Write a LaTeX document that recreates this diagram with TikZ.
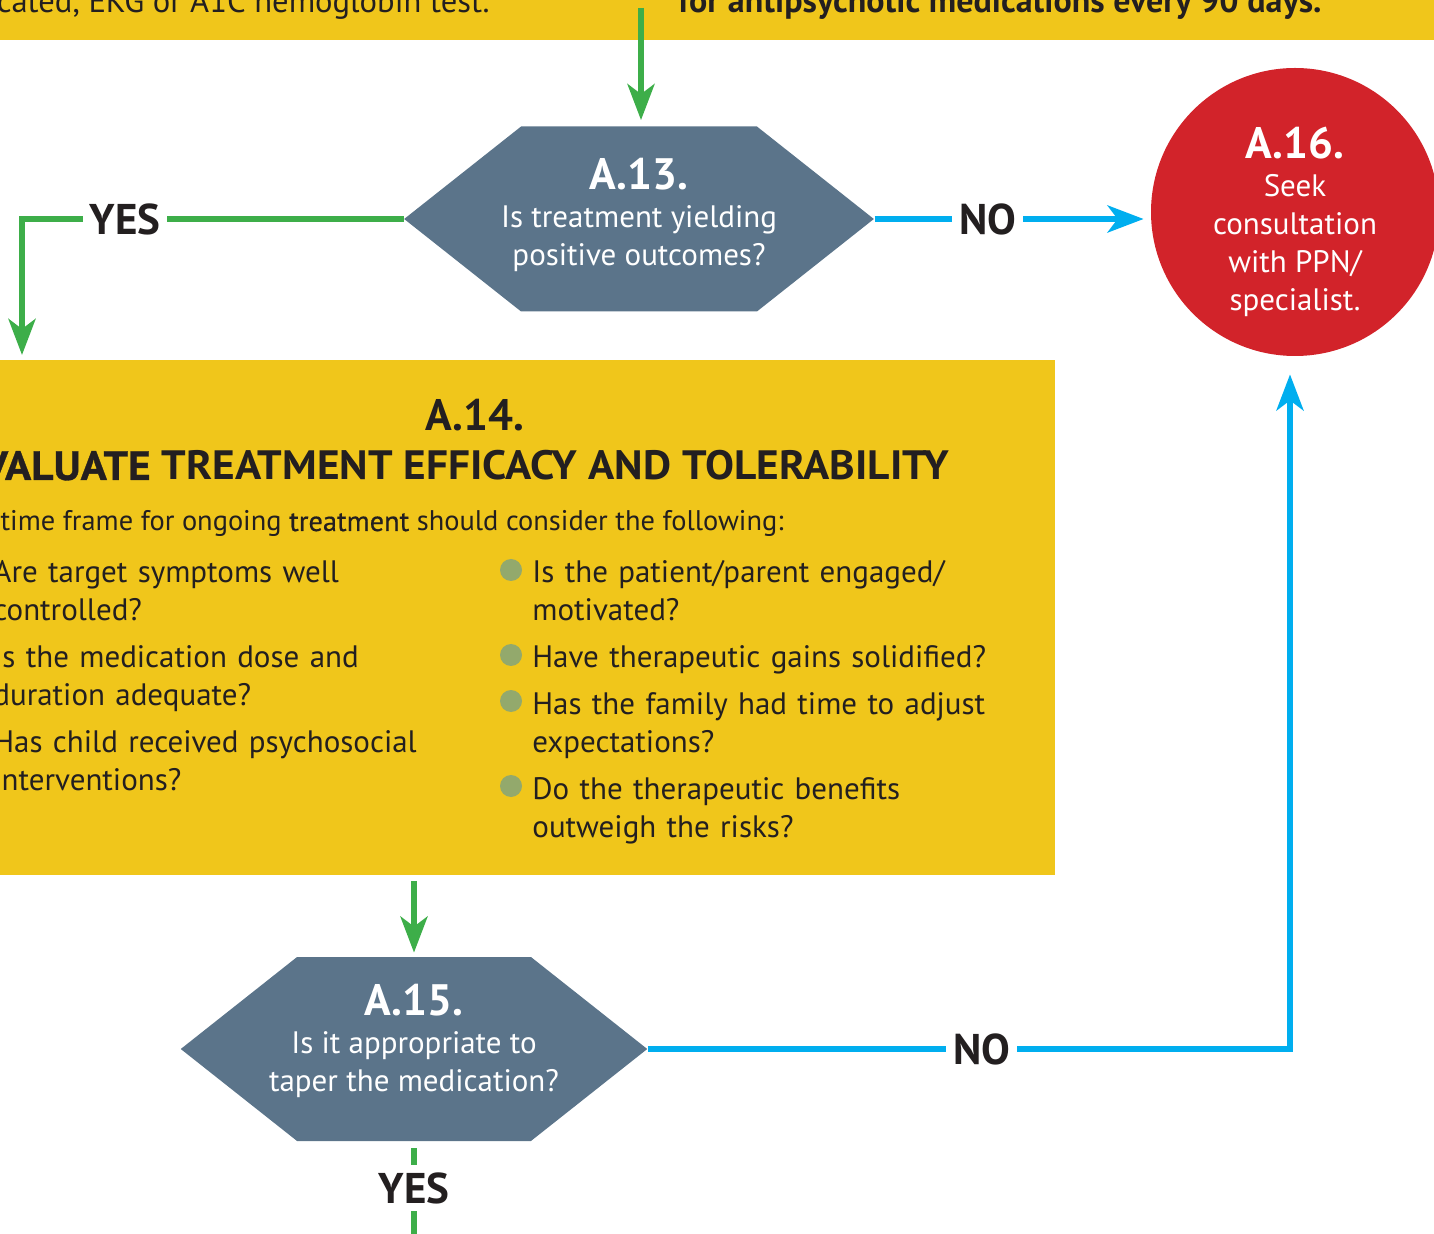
\documentclass[tikz,border=0pt]{standalone}
\usepackage{fontspec}
\setmainfont{PT Sans}
\newfontfamily\titlefont[FakeStretch=1.057]{PT Sans Bold}
\newfontfamily\titleheavy[FakeStretch=1.057, FakeBold=0.8]{PT Sans Bold}
\newfontfamily\medfont[FakeBold=0.5]{PT Sans}
\usetikzlibrary{arrows.meta,shapes.symbols}

\definecolor{bandyellow}{HTML}{F0C61B}
\definecolor{slateblue}{HTML}{5B748A}
\definecolor{alertred}{HTML}{D2232A}
\definecolor{noblue}{HTML}{00AEEF}
\definecolor{yesgreen}{HTML}{3DAE49}
\definecolor{dotgreen}{HTML}{93A96C}
\definecolor{darktext}{HTML}{231F20}

\def\bodyfont{\fontsize{15.5}{19}\selectfont}
\def\headfont{\fontsize{22}{24}\selectfont\bfseries}
\tikzstyle{hexnode}=[signal, signal to=east and west, signal pointer angle=76.7, fill=slateblue, text=white, align=center, minimum width=1pt, minimum height=92.5pt, inner ysep=0pt, font=\bodyfont]
\tikzstyle{redcircle}=[circle, fill=alertred, minimum size=144pt, inner sep=0pt]
\tikzstyle{circletext}=[text=white, align=center, inner sep=0pt, font=\bodyfont]
\tikzstyle{evalbox}=[rectangle, fill=bandyellow, minimum width=587.5pt, minimum height=257.5pt, inner sep=0pt]
\tikzstyle{bodytext}=[text=darktext, inner sep=0pt, font=\bodyfont]
\tikzstyle{itemtext}=[bodytext, align=left, text width=232pt, anchor=base west]
\tikzstyle{dot}=[circle, fill=dotgreen, minimum size=11pt, inner sep=0pt]
\tikzstyle{answer}=[fill=white, text=darktext, inner sep=3.5pt, font=\fontsize{21.5}{24}\selectfont\bfseries]
\tikzstyle{flowyes}=[draw=yesgreen, line width=3pt]
\tikzstyle{flowno}=[draw=noblue, line width=3pt]

\begin{document}
\begin{tikzpicture}[x=0.5pt, y=-0.5pt, >={Stealth[length=18pt, width=13.5pt, inset=5pt]}]
  \useasboundingbox (0,0) rectangle (1434,1234);

  % previous step (band at the top)
  \fill[bandyellow] (-20,-80) rectangle (1454,40);
  \node [bodytext, anchor=base east, font=\fontsize{16.3}{19}\selectfont] (prev-left) at (490,13) {indicated, EKG or A1C hemoglobin test.};
  \node [bodytext, anchor=base west, font=\fontsize{17}{19}\selectfont\bfseries] (prev-right) at (678,13) {for antipsychotic medications every 90 days.};
  \coordinate (bandout) at (641,8);

  % decision A.13 and consultation A.16
  \node [hexnode, inner xsep=-10pt] (a13) at (639,219)
    {{\headfont A.13.}\\Is treatment yielding\\positive outcomes?\rule[-7pt]{0pt}{7pt}};
  \node [redcircle] (a16) at (1295,212) {};
  \node [circletext] (a16-text) at ([yshift=-5pt]a16.center)
    {{\headfont A.16.}\\Seek\\consultation\\with PPN/\\specialist.};

  % evaluation box A.14
  \node [evalbox, anchor=north east] (a14) at (1055,360) {};
  \node [bodytext, font=\headfont] (a14-num) at (475,415) {A.14.};
  \node [bodytext, anchor=base east, font=\fontsize{20.5}{24}\titlefont] (a14-head) at (950,480)
    {{\titleheavy EVALUATE} TREATMENT EFFICACY AND TOLERABILITY};
  \node [bodytext, anchor=base east, font=\fontsize{14.2}{19}\selectfont] (a14-intro) at (784,531)
    {The time frame for ongoing {\medfont treatment} should consider the following:};

  % left column
  \foreach \y/\txt [count=\i] in {583/{Are target symptoms well\\controlled?},
      668/{Is the medication dose and\\duration adequate?},
      752/{Has child received psychosocial\\interventions?}}
    \node [itemtext] (left-\i) at (-7,\y) {\txt};

  % right column with bullets
  \foreach \y [count=\i] in {570,655,701,786}
    \node [dot] (dot-\i) at (511,\y) {};
  \foreach \y/\txt [count=\i] in {583/{Is the patient/parent engaged/\\motivated?},
      668/{Have therapeutic gains solidified?},
      714/{Has the family had time to adjust\\expectations?},
      799/{Do the therapeutic benefits\\outweigh the risks?}}
    \node [itemtext] (right-\i) at (532,\y) {\txt};

  % decision A.15
  \node [hexnode, inner xsep=-14pt, minimum height=92pt] (a15) at (414,1049)
    {{\headfont A.15.}\\Is it appropriate to\\taper the medication?\rule[-11pt]{0pt}{11pt}};

  % connectors
  \coordinate (yesturn) at (22,219);
  \coordinate (noturn) at (1290,1049);
  \coordinate (yesout) at (414,1250);

  \draw [flowyes, ->, shorten >=3pt] (bandout) -- (bandout |- a13.north);
  \draw [flowyes, ->, shorten >=2.5pt] (a13.west) -- node[answer, pos=0.73] {YES} (yesturn) -- (yesturn |- a14.north);
  \draw [flowno, ->, shorten >=3.5pt] (a13.east) -- node[answer, pos=0.41] {NO} (a13.east -| a16.west);
  \draw [flowyes, ->, shorten <=2.5pt, shorten >=2pt] (a14.south -| a15.north) -- (a15.north);
  \draw [flowno, ->, shorten >=9pt] (a15.east) -- node[answer, pos=0.52] {NO} (noturn) -- (noturn |- a16.south);
  \draw [flowyes, shorten <=3.5pt] (a15.south) -- node[answer, pos=0.43] {YES} (yesout);
\end{tikzpicture}
\end{document}
